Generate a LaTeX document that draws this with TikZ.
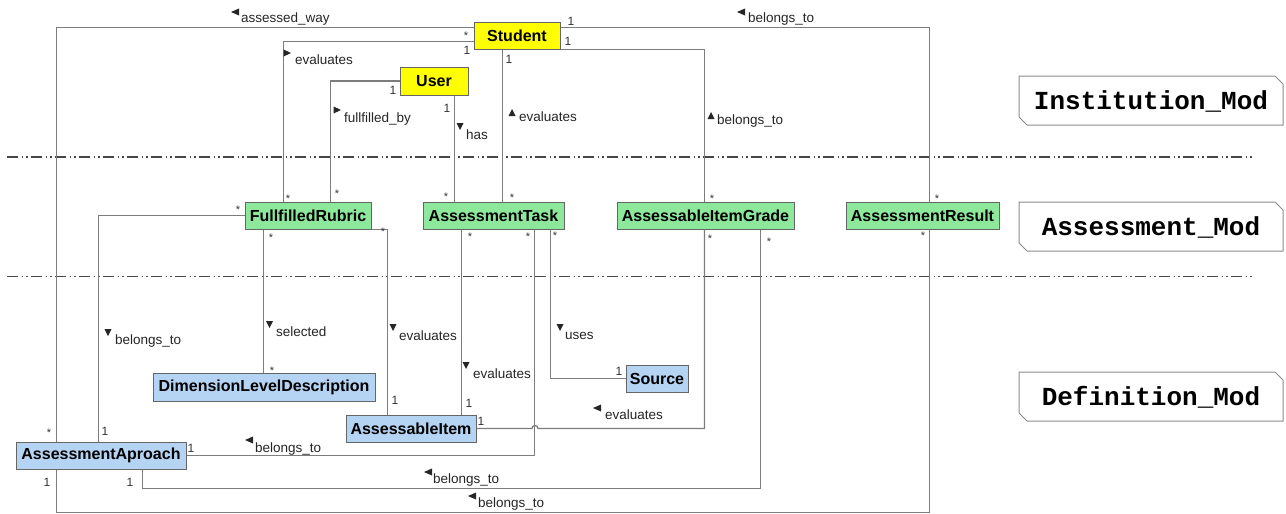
\documentclass[tikz,border=0pt]{standalone}
\usepackage{fontspec}
\setmainfont{Liberation Sans}
\newfontfamily\modfont{Liberation Mono}
\usetikzlibrary{calc}
\definecolor{clsyellow}{RGB}{255,255,0}
\definecolor{clsgreen}{RGB}{142,232,155}
\definecolor{clsblue}{RGB}{181,211,242}
\definecolor{lnc}{RGB}{125,125,125}
\definecolor{sepc}{RGB}{70,70,70}
\newcommand\arrL[2]{\fill[black!85] (#1,#2) -- ++(8,-3.5) -- ++(0,7) -- cycle;}
\newcommand\arrR[2]{\fill[black!85] (#1,#2) -- ++(-7.5,-3.5) -- ++(0,7) -- cycle;}
\newcommand\arrU[2]{\fill[black!85] (#1,#2) -- ++(-3.5,7) -- ++(7,0) -- cycle;}
\newcommand\arrD[2]{\fill[black!85] (#1,#2) -- ++(-3.5,-7) -- ++(7,0) -- cycle;}
\begin{document}
\begin{tikzpicture}[x=1pt,y=-1pt,
  cls/.style={draw=black!60, line width=1pt, inner sep=0pt,
    font=\fontsize{16}{18}\selectfont\bfseries},
  assoc/.style={draw=lnc, line width=1.3pt},
  lab/.style={anchor=base west, inner sep=0pt, text=black!85,
    font=\fontsize{13.5}{15}\selectfont},
  mul/.style={inner sep=0pt, text=black!80, font=\fontsize{12}{14}\selectfont},
  star/.style={mul, yshift=-2.6pt, font=\fontsize{11}{13}\selectfont},
  modbox/.style={draw=black!45, line width=1pt, fill=white},
  modtxt/.style={inner sep=0pt, font=\modfont\fontsize{26}{28}\selectfont\bfseries},
  sepline/.style={draw=sepc, line width=1.2pt,
    dash pattern=on 11pt off 3.5pt on 1.5pt off 3pt on 1.5pt off 3.5pt}]
\useasboundingbox (0,0) rectangle (1286,514);
\fill[white] (0,0) rectangle (1286,514);

% separator lines
\draw[sepline] (7,157) -- (1253,157);
\draw[sepline] (7,276.5) -- (1253,276.5);

% classes
\node[cls, fill=clsyellow, minimum width=86, minimum height=27] (stu) at (517,35.5) {Student};
\node[cls, fill=clsyellow, minimum width=68, minimum height=28] (usr) at (434,81) {User};
\node[cls, fill=clsgreen, minimum width=126, minimum height=27] (fr) at (308,215.5) {FullfilledRubric};
\node[cls, fill=clsgreen, minimum width=141, minimum height=27] (at) at (493.5,215.5) {AssessmentTask};
\node[cls, fill=clsgreen, minimum width=177, minimum height=27] (aig) at (705.5,215.5) {AssessableItemGrade};
\node[cls, fill=clsgreen, minimum width=153, minimum height=27] (ar) at (922.5,215.5) {AssessmentResult};
\node[cls, fill=clsblue, minimum width=222, minimum height=28] (dld) at (264,387) {DimensionLevelDescription};
\node[cls, fill=clsblue, minimum width=62, minimum height=27] (src) at (657,378.5) {Source};
\node[cls, fill=clsblue, minimum width=130, minimum height=27] (ai) at (411,428.5) {AssessableItem};
\node[cls, fill=clsblue, minimum width=170, minimum height=27] (aa) at (101,455.5) {AssessmentAproach};

% associations
\draw[assoc] ([yshift=-6pt]stu.north west) -| ([xshift=41pt]aa.north west);
\draw[assoc] ([yshift=-20pt]stu.north west) -| ([xshift=39pt]fr.north west);
\draw[assoc] (usr.west) -| ([xshift=86pt]fr.north west);
\draw[assoc] ([xshift=55pt]usr.south west) -- ([xshift=32pt]at.north west);
\draw[assoc] ([xshift=29pt]stu.south west) -- ([xshift=80pt]at.north west);
\draw[assoc] (stu.south east) -| ([xshift=88pt]aig.north west);
\draw[assoc] ([yshift=-6pt]stu.north east) -| ([xshift=84pt]ar.north west);
\draw[assoc] ([xshift=84pt]ar.south west) |- ([xshift=41pt,yshift=-43pt]aa.south west) -- ([xshift=41pt]aa.south west);
\draw[assoc] (fr.west) -| ([xshift=83pt]aa.north west);
\draw[assoc] ([xshift=19pt]fr.south west) -- ([xshift=111pt]dld.north west);
\draw[assoc] (fr.south east) -| ([xshift=42pt]ai.north west);
\draw[assoc] ([xshift=39pt]at.south west) -- ([xshift=116pt]ai.north west);
\draw[assoc] ([xshift=112pt]at.south west) |- (aa.east);
\draw[assoc] ([xshift=128pt]at.south west) |- (src.west);
\draw[assoc] ([xshift=88pt]aig.south west) |- (538,428.5) arc[start angle=0, end angle=180, radius=3pt] -- (ai.east);
\draw[assoc] ([xshift=144pt]aig.south west) |- ([xshift=127pt,yshift=-19pt]aa.south west) -- ([xshift=127pt]aa.south west);

% association labels
\arrL{231}{12}   \node[lab] (l1) at (241,23) {assessed\_way};
\arrL{737}{12}   \node[lab] (l2) at (748,22) {belongs\_to};
\arrR{291}{53}   \node[lab] (l3) at (295,64) {evaluates};
\arrR{341}{110}  \node[lab] (l4) at (344,122) {fullfilled\_by};
\arrD{460}{130}  \node[lab] (l5) at (466,139) {has};
\arrU{512}{109}  \node[lab] (l6) at (519,121) {evaluates};
\arrU{711}{112}  \node[lab] (l7) at (717,124) {belongs\_to};
\arrD{108}{336}  \node[lab] (l8) at (115,344) {belongs\_to};
\arrD{269.5}{328} \node[lab] (l9) at (276,336) {selected};
\arrD{393}{331}  \node[lab] (l10) at (399,340) {evaluates};
\arrD{560}{331}  \node[lab] (l11) at (565,339) {uses};
\arrD{466}{369}  \node[lab] (l12) at (473,378) {evaluates};
\arrL{593}{408}  \node[lab] (l13) at (605,419) {evaluates};
\arrL{245}{440}  \node[lab] (l14) at (255,452) {belongs\_to};
\arrL{424}{472}  \node[lab] (l15) at (433,483) {belongs\_to};
\arrL{468}{496}  \node[lab] (l16) at (478,507) {belongs\_to};

% multiplicities
\node[star] (m1) at (466,33) {*};
\node[mul] (m2) at (467,50) {1};
\node[mul] (m3) at (571,21) {1};
\node[mul] (m4) at (568,41) {1};
\node[mul] (m5) at (509,59) {1};
\node[mul] (m6) at (393,90) {1};
\node[mul] (m7) at (447,108) {1};
\node[star] (m8) at (288,196) {*};
\node[star] (m9) at (337,191) {*};
\node[star] (m10) at (238,207) {*};
\node[star] (m11) at (271,235) {*};
\node[star] (m12) at (383,229) {*};
\node[star] (m13) at (446,194) {*};
\node[star] (m14) at (512,195) {*};
\node[star] (m15) at (470,234) {*};
\node[star] (m16) at (528,234) {*};
\node[star] (m17) at (555,233) {*};
\node[star] (m18) at (712,196) {*};
\node[star] (m19) at (710,236) {*};
\node[star] (m20) at (769,239) {*};
\node[star] (m21) at (937,196) {*};
\node[star] (m22) at (923,233) {*};
\node[star] (m23) at (272,368) {*};
\node[mul] (m24) at (395,400) {1};
\node[mul] (m25) at (469,403) {1};
\node[mul] (m26) at (481,421) {1};
\node[mul] (m27) at (619,371) {1};
\node[star] (m28) at (49,430) {*};
\node[mul] (m29) at (105,431) {1};
\node[mul] (m30) at (191,448) {1};
\node[mul] (m31) at (47,482) {1};
\node[mul] (m32) at (130,482) {1};

% module labels
\draw[modbox] (1019,76) -- (1275,76) -- (1283,84) -- (1283,125) -- (1027,125) -- (1019,117) -- cycle;
\node[modtxt] (mod1) at (1151,101) {Institution\_Mod};
\draw[modbox] (1019,202) -- (1275,202) -- (1283,210) -- (1283,251) -- (1027,251) -- (1019,243) -- cycle;
\node[modtxt] (mod2) at (1151,227) {Assessment\_Mod};
\draw[modbox] (1019,372) -- (1275,372) -- (1283,380) -- (1283,421) -- (1027,421) -- (1019,413) -- cycle;
\node[modtxt] (mod3) at (1151,397) {Definition\_Mod};
\end{tikzpicture}
\end{document}
